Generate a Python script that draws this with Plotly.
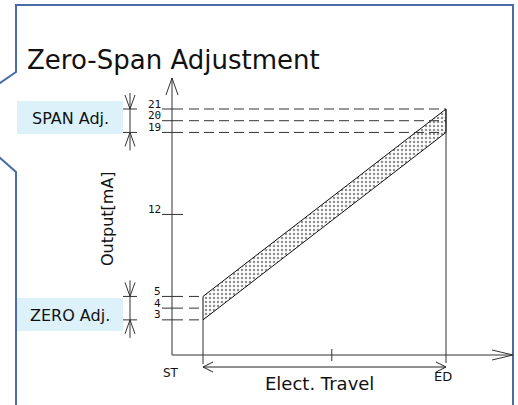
import plotly.graph_objects as go

# ---------------- data ----------------
zero_levels = [3, 4, 5]          # mA, zero adjustment range
span_levels = [19, 20, 21]       # mA, span adjustment range
mid_levels = [12]                # mA, middle tick
travel_labels = ["ST", "ED"]
travel_x = [0, 10]               # electrical travel start / end
travel_mid = [5.3]
band_lower = [3, 19]             # output at ST / ED (lower limit)
band_upper = [5, 21]             # output at ST / ED (upper limit)

# ---------------- geometry (pixel scale helpers) ----------------
W, H = 518, 405
X0_PX, PX_PER_X = 203.0, 24.3
Y0_PX, PX_PER_Y = 355.0, 246.0 / 21.0


def X(px):
    return (px - X0_PX) / PX_PER_X


def Y(py):
    return (Y0_PX - py) / PX_PER_Y


def dx(p):
    return p / PX_PER_X


def dy(p):
    return p / PX_PER_Y


x_range = [X(0), X(W)]
y_range = [Y(H), Y(0)]

AX_X = X(172)          # y-axis position
AX_END = X(513)        # x-axis arrow tip
AX_TOP = Y(78)         # y-axis arrow tip
LINE = "#333333"
TXT = "#111111"

shapes = []


def line(x0, y0, x1, y1, color=LINE, width=1, dash="solid"):
    shapes.append(dict(type="line", xref="x", yref="y", x0=x0, y0=y0, x1=x1, y1=y1,
                       line=dict(color=color, width=width, dash=dash), layer="above"))


def poly(pts, color=LINE, width=1):
    path = "M " + " L ".join(f"{a},{b}" for a, b in pts)
    shapes.append(dict(type="path", xref="x", yref="y", path=path,
                       line=dict(color=color, width=width), layer="above"))


# frame (callout outline)
frame_px = [(16, 420), (16, 172), (-10, 149), (-10, 90), (16, 72), (16, 5), (513, 5), (513, 420)]
poly([(X(a), Y(b)) for a, b in frame_px], color="#4a6ca8", width=2)

# adjustment boxes
for ytop, ybot in [(101, 134), (298, 331)]:
    shapes.append(dict(type="rect", xref="x", yref="y", x0=X(17), x1=X(123), y0=Y(ybot), y1=Y(ytop),
                       fillcolor="#dcf1fa", line=dict(width=0), layer="below"))

# axes
line(AX_X, 0, AX_END, 0)
line(AX_X, 0, AX_X, AX_TOP)
poly([(AX_X - dx(6), AX_TOP - dy(17)), (AX_X, AX_TOP), (AX_X + dx(6), AX_TOP - dy(17))])
poly([(AX_END - dx(21), dy(5)), (AX_END, 0), (AX_END - dx(21), -dy(5))])

# y ticks and dashed guide lines
all_levels = zero_levels + mid_levels + span_levels
for lv in all_levels:
    line(AX_X - dx(10), lv, AX_X + dx(11), lv)
for lv in span_levels:
    line(AX_X + dx(17), lv, travel_x[1], lv, dash="10px,5px")
for lv in zero_levels:
    line(AX_X + dx(17), lv, travel_x[0], lv, dash="10px,5px")

# x tick
line(travel_mid[0], -dy(6), travel_mid[0], dy(6))

# ST / ED verticals
line(travel_x[0], band_lower[0], travel_x[0], -dy(9))
line(travel_x[1], band_upper[1], travel_x[1], -dy(8))

# Elect. travel double arrow
TY = Y(367)
line(travel_x[0], TY, travel_x[1], TY, color="#222222")
poly([(travel_x[0] + dx(10), TY + dy(5)), (travel_x[0], TY), (travel_x[0] + dx(10), TY - dy(5))], color="#222222")
poly([(travel_x[1] - dx(10), TY + dy(5)), (travel_x[1], TY), (travel_x[1] - dx(10), TY - dy(5))], color="#222222")

# adjustment indicators (arrows pointing inward)
IX = X(130)
for lo, hi in [(min(span_levels), max(span_levels)), (min(zero_levels), max(zero_levels))]:
    line(IX, hi + dy(16), IX, lo - dy(18))
    line(X(123), hi, X(137), hi)
    line(X(123), lo, X(137), lo)
    poly([(IX - dx(5), hi + dy(14)), (IX, hi), (IX + dx(5), hi + dy(14))])
    poly([(IX - dx(5), lo - dy(14)), (IX, lo), (IX + dx(5), lo - dy(14))])

fig = go.Figure()

# stippled band
fig.add_trace(go.Scatter(
    x=[travel_x[0], travel_x[1], travel_x[1], travel_x[0], travel_x[0]],
    y=[band_lower[0], band_lower[1], band_upper[1], band_upper[0], band_lower[0]],
    mode="lines", fill="toself", line=dict(color="#111111", width=1),
    fillcolor="white",
    fillpattern=dict(shape=".", fgcolor="#222222", bgcolor="white", size=4, solidity=0.3),
    hoverinfo="skip", showlegend=False))

annotations = []


def text(x, y, s, size, xanchor="center", yanchor="middle", font="DejaVu Sans", xshift=0, yshift=0,
         angle=0):
    annotations.append(dict(x=x, y=y, xref="x", yref="y", text=s, showarrow=False,
                            xanchor=xanchor, yanchor=yanchor, xshift=xshift, yshift=yshift,
                            textangle=angle, font=dict(family=font, size=size, color=TXT)))


# tick labels
for lv in all_levels:
    text(AX_X - dx(9), lv, str(lv), 11, xanchor="right", font="DejaVu Sans Mono", yshift=5)

text(travel_x[0] - dx(32), Y(373), travel_labels[0], 12)
text(travel_x[1] - dx(3), Y(376), travel_labels[1], 13)
text((travel_x[0] + travel_x[1]) / 2 - dx(5), Y(383), "Elect. Travel", 18)
text(X(107), Y(219), "Output[mA]", 16, angle=-90)
text(X(70), Y(118), "SPAN Adj.", 16)
text(X(70), Y(315), "ZERO Adj.", 16)
text(X(25), Y(60), "Zero-Span Adjustment", 26, xanchor="left")

fig.update_layout(
    width=W, height=H, autosize=False,
    margin=dict(l=0, r=0, t=0, b=0),
    paper_bgcolor="white", plot_bgcolor="white",
    xaxis=dict(range=x_range, visible=False, fixedrange=True),
    yaxis=dict(range=y_range, visible=False, fixedrange=True),
    shapes=shapes, annotations=annotations, showlegend=False,
)

fig.write_html("out.html", config={"displayModeBar": False},
               post_script="document.body.style.margin='0';")
